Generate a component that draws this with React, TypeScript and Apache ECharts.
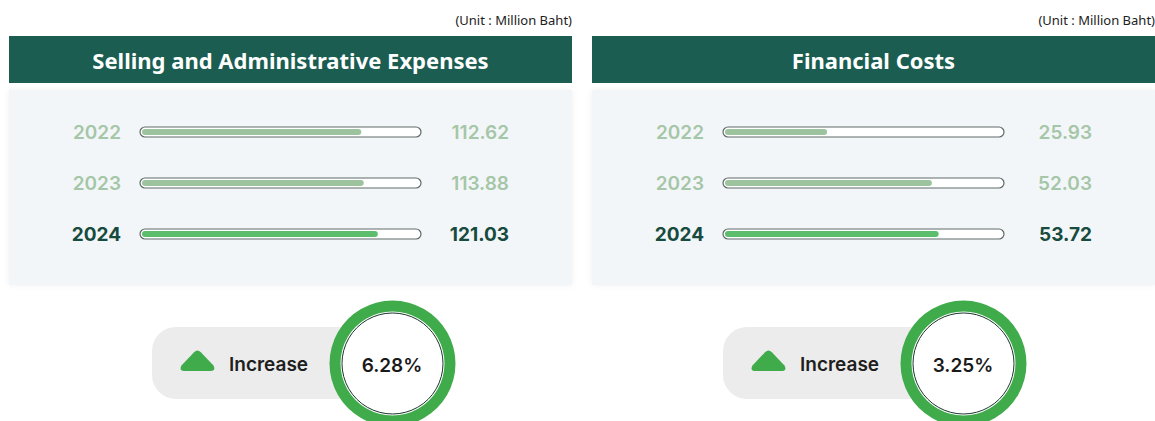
import React, { useEffect, useRef } from "react";
import * as echarts from "echarts";

const years = ["2022", "2023", "2024"];
const sgaValues = [112.62, 113.88, 121.03];
const finValues = [25.93, 52.03, 53.72];
const sgaMax = 143;
const finMax = 70;
const titles = ["Selling and Administrative Expenses", "Financial Costs"];
const unitLabel = "(Unit : Million Baht)";
const changeLabel = "Increase";

const HEADER = "#1b5d51";
const PANEL = "#f3f6f9";
const LIGHT_TXT = "#a5c6a7";
const DARK_TXT = "#164b3d";
const LIGHT_FILL = "#9cc39e";
const DARK_FILL = "#5cbd6c";
const RING = "#3fab4b";

echarts.graphic.registerShape(
  "roundTri",
  echarts.graphic.extendPath(
    "M14.5 2.2 Q18 -1 21.5 2.2 L34.5 15.5 Q37.5 21 31 21 L5 21 Q-1.5 21 1.5 15.5 Z",
    {}
  )
);

const pct = (arr: number[]) =>
  ((arr[arr.length - 1] / arr[arr.length - 2] - 1) * 100).toFixed(2) + "%";

export default function App() {
  const ref = useRef<HTMLDivElement>(null);
  useEffect(() => {
    if (!ref.current) return;
    const chart = echarts.init(ref.current, null, { renderer: "svg" });
    const font = "Inter, 'Noto Sans', sans-serif";

    const panels = [
      { x: 9, vals: sgaValues, max: sgaMax, title: titles[0], bx: 0 },
      { x: 592, vals: finValues, max: finMax, title: titles[1], bx: 571 },
    ];

    const graphics: any[] = [];
    panels.forEach((p) => {
      graphics.push(
        {
          type: "text",
          z: 1,
          style: {
            text: unitLabel,
            x: p.x + 563,
            y: 20,
            textAlign: "right",
            textVerticalAlign: "middle",
            fill: "#222",
            fontSize: 13,
            fontFamily: "'Noto Sans', sans-serif",
          },
        },
        {
          type: "rect",
          z: 0,
          shape: { x: p.x, y: 36, width: 563, height: 47 },
          style: { fill: HEADER },
        },
        {
          type: "text",
          z: 1,
          style: {
            text: p.title,
            x: p.x + 281.5,
            y: 60,
            textAlign: "center",
            textVerticalAlign: "middle",
            fill: "#ffffff",
            fontSize: 22,
            fontWeight: 700,
            fontFamily: "'Noto Sans', sans-serif",
          },
        },
        {
          type: "rect",
          z: 0,
          shape: { x: p.x, y: 90, width: 563, height: 195 },
          style: { fill: PANEL, shadowBlur: 6, shadowColor: "rgba(0,0,0,0.06)" },
        },
        {
          type: "rect",
          z: 0,
          shape: { x: p.bx + 152, y: 327, width: 250, height: 72, r: 24 },
          style: { fill: "#ececec" },
        },
        {
          type: "roundTri",
          z: 1,
          x: p.bx + 180,
          y: 350,
          scaleX: 0.97,
          scaleY: 1,
          style: { fill: RING },
        },
        {
          type: "text",
          z: 1,
          style: {
            text: changeLabel,
            x: p.bx + 229,
            y: 364,
            textAlign: "left",
            textVerticalAlign: "middle",
            fill: "#1e1e1e",
            fontSize: 19,
            fontWeight: 600,
            fontFamily: font,
          },
        },
        {
          type: "circle",
          z: 2,
          shape: { cx: p.bx + 392.5, cy: 363.5, r: 63 },
          style: { fill: RING },
        },
        {
          type: "circle",
          z: 2,
          shape: { cx: p.bx + 392.5, cy: 363.5, r: 52 },
          style: { fill: "#ffffff" },
        },
        {
          type: "circle",
          z: 2,
          shape: { cx: p.bx + 392.5, cy: 363.5, r: 50.5 },
          style: { fill: "none", stroke: "#16352a", lineWidth: 1 },
        },
        {
          type: "text",
          z: 3,
          style: {
            text: pct(p.vals),
            x: p.bx + 392,
            y: 365,
            textAlign: "center",
            textVerticalAlign: "middle",
            fill: "#1a1a1a",
            fontSize: 19,
            fontWeight: 600,
            fontFamily: font,
          },
        }
      );
    });

    const gridLefts = [140, 723];
    const grids = gridLefts.map((l) => ({ left: l, width: 281, top: 106.5, height: 153 }));

    const xAxes = panels.map((p, i) => ({
      type: "value",
      gridIndex: i,
      min: 0,
      max: p.max,
      show: false,
    }));

    const yearLabel = {
      margin: 19,
      formatter: (v: string) => (v === years[years.length - 1] ? `{d|${v}}` : `{l|${v}}`),
      rich: {
        l: { color: LIGHT_TXT, fontSize: 19, fontWeight: 600, fontFamily: font },
        d: { color: DARK_TXT, fontSize: 19, fontWeight: 700, fontFamily: font },
      },
    };

    const yAxes: any[] = [];
    panels.forEach((p, i) => {
      yAxes.push({
        type: "category",
        gridIndex: i,
        data: years,
        inverse: true,
        position: "left",
        axisLine: { show: false },
        axisTick: { show: false },
        splitLine: { show: false },
        axisLabel: yearLabel,
      });
      yAxes.push({
        type: "category",
        gridIndex: i,
        data: p.vals.map((v) => v.toFixed(2)),
        inverse: true,
        position: "right",
        axisLine: { show: false },
        axisTick: { show: false },
        splitLine: { show: false },
        axisLabel: {
          margin: 88,
          align: "right",
          formatter: (v: string) => (v === p.vals[p.vals.length - 1].toFixed(2) ? `{d|${v}}` : `{l|${v}}`),
          rich: yearLabel.rich,
        },
      });
    });

    const series = panels.map((p, i) => ({
      type: "custom",
      xAxisIndex: i,
      yAxisIndex: i * 2,
      encode: { x: 0, y: 1 },
      data: p.vals.map((v, k) => [v, k]),
      renderItem: (params: any, api: any) => {
        const idx = api.value(1);
        const s = api.coord([0, idx]);
        const e = api.coord([p.max, idx]);
        const f = api.coord([api.value(0), idx]);
        const last = idx === years.length - 1;
        return {
          type: "group",
          children: [
            {
              type: "rect",
              shape: { x: s[0], y: s[1] - 5, width: e[0] - s[0], height: 10, r: 5 },
              style: { fill: "#ffffff", stroke: "#5e6a68", lineWidth: 1.2 },
            },
            {
              type: "rect",
              shape: { x: s[0] + 2, y: s[1] - 3, width: f[0] - s[0] - 2, height: 6, r: 3 },
              style: { fill: last ? DARK_FILL : LIGHT_FILL },
            },
          ],
        };
      },
    }));

    chart.setOption({
      animation: false,
      backgroundColor: "#ffffff",
      grid: grids,
      xAxis: xAxes,
      yAxis: yAxes,
      series,
      graphic: graphics,
    });
    return () => chart.dispose();
  }, []);
  return (
    <div
      ref={ref}
      style={{ position: "fixed", left: 0, top: 0, width: 1155, height: 421 }}
    />
  );
}
